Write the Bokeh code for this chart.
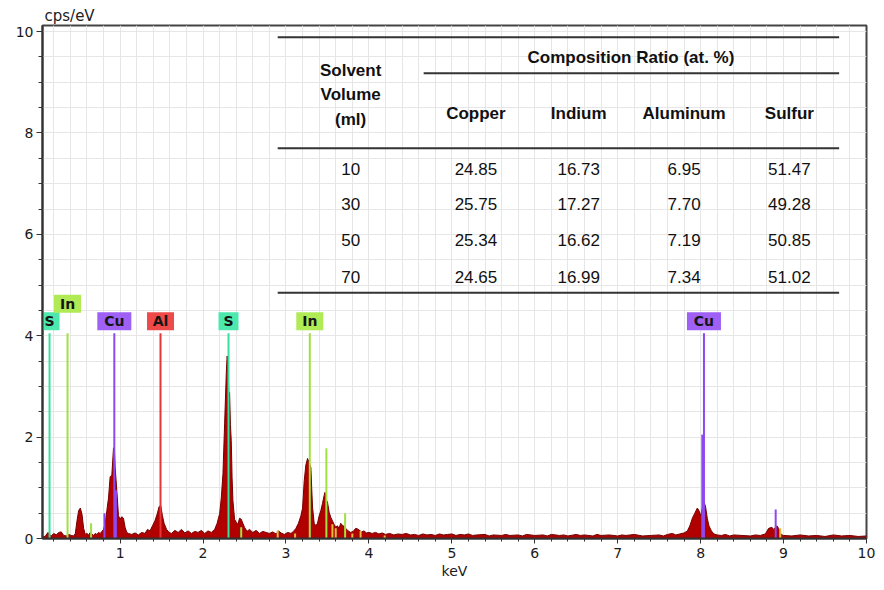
from bokeh.plotting import figure
from bokeh.models import Range1d, FixedTicker, ColumnDataSource
from bokeh.embed import file_html
from bokeh.resources import INLINE
from bokeh.core.properties import value

# ---------------- data ----------------
energy_keV = [0.06, 0.10, 0.13, 0.15, 0.17, 0.20, 0.23, 0.26, 0.29, 0.32, 0.35, 0.38, 0.41, 0.44,
              0.46, 0.48, 0.50, 0.52, 0.54, 0.56, 0.58, 0.60, 0.62, 0.64, 0.66, 0.68, 0.70, 0.72,
              0.74, 0.76, 0.78, 0.80, 0.82, 0.84, 0.86, 0.88, 0.90, 0.92, 0.93, 0.94, 0.96, 0.98,
              1.00, 1.02, 1.04, 1.06, 1.08, 1.10, 1.14, 1.18, 1.22, 1.26, 1.30, 1.33, 1.36, 1.39,
              1.42, 1.45, 1.47, 1.49, 1.51, 1.53, 1.56, 1.59, 1.62, 1.66, 1.70, 1.74, 1.78, 1.82,
              1.86, 1.90, 1.94, 1.98, 2.02, 2.06, 2.10, 2.14, 2.17, 2.20, 2.22, 2.24, 2.26, 2.28,
              2.29, 2.30, 2.31, 2.32, 2.33, 2.34, 2.35, 2.36, 2.38, 2.40, 2.42, 2.44, 2.46, 2.48,
              2.50, 2.53, 2.56, 2.60, 2.64, 2.68, 2.72, 2.76, 2.80, 2.84, 2.88, 2.91, 2.94, 2.98,
              3.02, 3.06, 3.09, 3.12, 3.15, 3.18, 3.20, 3.22, 3.24, 3.26, 3.28, 3.30, 3.31, 3.32,
              3.34, 3.36, 3.38, 3.40, 3.42, 3.44, 3.46, 3.47, 3.49, 3.50, 3.52, 3.54, 3.56, 3.58,
              3.60, 3.62, 3.64, 3.66, 3.68, 3.70, 3.72, 3.75, 3.78, 3.81, 3.84, 3.86, 3.88, 3.91,
              3.94, 3.97, 4.00, 4.04, 4.08, 4.12, 4.16, 4.20, 4.25, 4.30, 4.35, 4.40, 4.45, 4.50,
              4.55, 4.60, 4.65, 4.70, 4.75, 4.80, 4.85, 4.90, 4.95, 5.00, 5.05, 5.10, 5.15, 5.20,
              5.25, 5.30, 5.40, 5.45, 5.50, 5.60, 5.65, 5.70, 5.80, 5.85, 5.90, 6.00, 6.10, 6.15,
              6.20, 6.30, 6.35, 6.40, 6.50, 6.55, 6.60, 6.70, 6.75, 6.80, 6.90, 7.00, 7.05, 7.10,
              7.20, 7.30, 7.40, 7.50, 7.55, 7.60, 7.66, 7.70, 7.75, 7.80, 7.84, 7.87, 7.90, 7.93,
              7.96, 7.98, 8.00, 8.02, 8.04, 8.06, 8.08, 8.10, 8.13, 8.16, 8.20, 8.25, 8.30, 8.35,
              8.40, 8.50, 8.60, 8.66, 8.72, 8.78, 8.82, 8.86, 8.88, 8.92, 8.94, 8.97, 9.00, 9.10,
              9.20, 9.30, 9.40, 9.50, 9.60, 9.70, 9.80, 9.90, 10.00]
counts_cps = [0.02, 0.05, 0.12, 0.08, 0.05, 0.10, 0.07, 0.12, 0.13, 0.06, 0.05, 0.08, 0.06, 0.05,
              0.10, 0.35, 0.55, 0.60, 0.48, 0.20, 0.08, 0.10, 0.07, 0.12, 0.09, 0.06, 0.10, 0.08,
              0.12, 0.10, 0.14, 0.18, 0.30, 0.55, 0.80, 1.22, 1.25, 1.78, 1.80, 1.40, 0.95, 0.45,
              0.38, 0.43, 0.40, 0.22, 0.12, 0.10, 0.08, 0.11, 0.07, 0.12, 0.10, 0.18, 0.15, 0.25,
              0.35, 0.50, 0.63, 0.65, 0.45, 0.30, 0.18, 0.12, 0.10, 0.16, 0.12, 0.18, 0.11, 0.15,
              0.10, 0.14, 0.12, 0.16, 0.10, 0.15, 0.12, 0.18, 0.30, 0.49, 0.80, 1.28, 2.26, 3.25,
              3.60, 3.50, 2.90, 2.88, 2.25, 1.93, 1.20, 0.75, 0.38, 0.32, 0.28, 0.40, 0.38, 0.30,
              0.22, 0.14, 0.18, 0.12, 0.16, 0.10, 0.14, 0.12, 0.10, 0.13, 0.09, 0.15, 0.11, 0.08,
              0.12, 0.10, 0.14, 0.20, 0.30, 0.45, 0.60, 1.14, 1.45, 1.58, 1.50, 1.40, 1.00, 0.62,
              0.30, 0.25, 0.30, 0.45, 0.55, 0.69, 0.85, 0.91, 0.75, 0.72, 0.52, 0.42, 0.35, 0.28,
              0.22, 0.25, 0.20, 0.30, 0.26, 0.24, 0.20, 0.15, 0.12, 0.14, 0.20, 0.19, 0.17, 0.13,
              0.15, 0.11, 0.12, 0.10, 0.12, 0.09, 0.11, 0.08, 0.10, 0.07, 0.09, 0.08, 0.10, 0.07,
              0.08, 0.06, 0.09, 0.07, 0.08, 0.06, 0.09, 0.07, 0.08, 0.09, 0.06, 0.08, 0.07, 0.09,
              0.06, 0.07, 0.08, 0.05, 0.07, 0.06, 0.08, 0.06, 0.07, 0.05, 0.08, 0.06, 0.07, 0.05,
              0.08, 0.06, 0.07, 0.05, 0.08, 0.06, 0.07, 0.05, 0.08, 0.06, 0.07, 0.05, 0.07, 0.06,
              0.08, 0.05, 0.06, 0.07, 0.05, 0.08, 0.10, 0.07, 0.09, 0.11, 0.15, 0.25, 0.40, 0.50,
              0.60, 0.55, 0.45, 0.60, 0.73, 0.62, 0.40, 0.25, 0.15, 0.09, 0.07, 0.06, 0.08, 0.05,
              0.07, 0.06, 0.05, 0.07, 0.06, 0.09, 0.20, 0.22, 0.18, 0.25, 0.20, 0.08, 0.06, 0.05,
              0.07, 0.05, 0.06, 0.04, 0.07, 0.05, 0.06, 0.04, 0.05]

# labelled element lines
label_elements = ["S", "In", "Cu", "Al", "S", "In", "Cu"]
label_energy = [0.149, 0.366, 0.930, 1.487, 2.307, 3.287, 8.040]
label_height = [4.05, 4.05, 4.05, 4.05, 4.05, 4.05, 4.05]

# unlabelled element lines
minor_elements = ["Cu", "In", "Cu", "In", "In", "In", "Cu", "Cu"]
minor_energy = [0.811, 0.650, 0.949, 2.460, 3.487, 3.713, 8.020, 8.905]
minor_height = [0.50, 0.30, 0.95, 0.22, 1.78, 0.50, 2.05, 0.57]

# other faint markers
other_energy = [2.90, 3.11, 3.56, 3.60, 3.80, 3.90, 4.19, 8.96]
other_height = [0.16, 0.10, 0.28, 0.20, 0.10, 0.15, 0.06, 0.20]

# table
table_title = "Composition Ratio (at. %)"
table_first_header = ["Solvent", "Volume", "(ml)"]
table_columns = ["Copper", "Indium", "Aluminum", "Sulfur"]
solvent_volume = ["10", "30", "50", "70"]
copper = ["24.85", "25.75", "25.34", "24.65"]
indium = ["16.73", "17.27", "16.62", "16.99"]
aluminum = ["6.95", "7.70", "7.19", "7.34"]
sulfur = ["51.47", "49.28", "50.85", "51.02"]

x_ticks = [1, 2, 3, 4, 5, 6, 7, 8, 9, 10]
y_ticks = [0, 2, 4, 6, 8, 10]

# ---------------- styles ----------------
el_color = {"S": "#36E09E", "In": "#A2E040", "Cu": "#8E48F0", "Al": "#E63636"}
box_color = {"S": "#4DE8AE", "In": "#B0EA55", "Cu": "#9E60F5", "Al": "#EE4A4A"}
box_width = {"S": 20, "In": 27, "Al": 27, "Cu": 34}
TICK_FONT = "DejaVu Sans"
TABLE_FONT = "Liberation Sans"

p = figure(width=884, height=590, x_range=Range1d(0.064, 10.0), y_range=Range1d(0, 10.12),
           output_backend="svg", toolbar_location=None,
           min_border_left=42, min_border_right=18, min_border_top=25, min_border_bottom=52)
p.background_fill_color = "white"
p.border_fill_color = "white"
p.outline_line_color = "#444444"
p.outline_line_width = 2

p.title.text = "cps/eV"
p.title.text_font = TICK_FONT
p.title.text_font_size = "15px"
p.title.text_font_style = "normal"
p.title.text_color = "#222222"
p.title.align = "left"
p.title.offset = 2
p.title.standoff = 1

# axes
p.xaxis.ticker = FixedTicker(ticks=x_ticks, minor_ticks=[i / 5 for i in range(1, 50)])
p.yaxis.ticker = FixedTicker(ticks=y_ticks, minor_ticks=[i / 2 for i in range(0, 21)])
for ax in (p.xaxis[0], p.yaxis[0]):
    ax.major_label_text_font = TICK_FONT
    ax.major_label_text_font_size = "14px"
    ax.major_label_text_color = "#1a1a1a"
    ax.axis_line_color = "#333333"
    ax.axis_line_width = 2
    ax.major_tick_line_color = "#333333"
    ax.minor_tick_line_color = "#333333"
    ax.major_tick_in = 0
    ax.minor_tick_in = 0
p.xaxis.major_tick_out = 5
p.xaxis.minor_tick_out = 3
p.yaxis.major_tick_out = 6
p.yaxis.minor_tick_out = 4
p.xaxis.major_label_standoff = 4
p.yaxis.major_label_standoff = 3
p.xaxis.axis_label = "keV"
p.xaxis.axis_label_text_font = TICK_FONT
p.xaxis.axis_label_text_font_size = "14px"
p.xaxis.axis_label_text_font_style = "normal"
p.xaxis.axis_label_text_color = "#1a1a1a"
p.xaxis.axis_label_standoff = 2

p.xgrid.ticker = FixedTicker(ticks=[i / 5 for i in range(1, 50)])
p.ygrid.ticker = FixedTicker(ticks=[i / 2 for i in range(0, 21)])
p.xgrid.grid_line_color = "#e6e6e6"
p.ygrid.grid_line_color = "#e6e6e6"

# spectrum
p.varea(x=energy_keV, y1=[0] * len(energy_keV), y2=counts_cps, fill_color="#B00000")
p.line(energy_keV, counts_cps, line_color="#740000", line_width=1)

# other faint markers
p.segment(x0=other_energy, y0=[0] * len(other_energy), x1=other_energy, y1=other_height,
          line_color="#E0BC40", line_width=2)

# minor element lines
p.segment(x0=minor_energy, y0=[0] * len(minor_energy), x1=minor_energy, y1=minor_height,
          line_color=[el_color[e] for e in minor_elements], line_width=2)

# labelled element lines
p.segment(x0=label_energy, y0=[0] * len(label_energy), x1=label_energy, y1=label_height,
          line_color=[el_color[e] for e in label_elements], line_width=2)

# label boxes: bump a label up a row if it sits too close to the previous one
rows = []
for i, e in enumerate(label_energy):
    if i > 0 and e - label_energy[i - 1] < 0.3 and rows[-1] == 0:
        rows.append(1)
    else:
        rows.append(0)
row_y = {0: 4.285, 1: 4.63}
lab_src = ColumnDataSource(dict(
    x=label_energy, y=[row_y[r] for r in rows], text=label_elements,
    w=[box_width[e] for e in label_elements],
    fill=[box_color[e] for e in label_elements]))
p.rect(x="x", y="y", width="w", height=18, width_units="screen", height_units="screen",
       fill_color="fill", line_color=None, source=lab_src)
p.text(x="x", y="y", text="text", source=lab_src, text_font=value(TICK_FONT),
       text_font_size="14px", text_font_style="bold", text_align="center",
       text_baseline="middle", text_color="#151515")

# ---------------- table ----------------
T_LEFT, T_RIGHT, T_SUB = 2.90, 9.67, 4.66
T_TOP, T_SUBLINE, T_HEADLINE, T_BOTTOM = 9.89, 9.18, 7.70, 4.85
tline = "#333333"
p.segment(x0=[T_LEFT, T_SUB, T_LEFT, T_LEFT], y0=[T_TOP, T_SUBLINE, T_HEADLINE, T_BOTTOM],
          x1=[T_RIGHT, T_RIGHT, T_RIGHT, T_RIGHT], y1=[T_TOP, T_SUBLINE, T_HEADLINE, T_BOTTOM],
          line_color=tline, line_width=2)

col_x = [3.78, 5.29, 6.53, 7.80, 9.07]
row_ys = [7.29, 6.60, 5.89, 5.16]

p.text(x=[7.16], y=[9.48], text=[table_title], text_font=value(TABLE_FONT),
       text_font_size="17px", text_font_style="bold", text_align="center",
       text_baseline="middle", text_color="#111111")
p.text(x=[col_x[0]] * 3, y=[9.24, 8.76, 8.26], text=table_first_header,
       text_font=value(TABLE_FONT), text_font_size="17px", text_font_style="bold",
       text_align="center", text_baseline="middle", text_color="#111111")
p.text(x=col_x[1:], y=[8.39] * 4, text=table_columns, text_font=value(TABLE_FONT),
       text_font_size="17px", text_font_style="bold", text_align="center",
       text_baseline="middle", text_color="#111111")

for cx, col in zip(col_x, [solvent_volume, copper, indium, aluminum, sulfur]):
    p.text(x=[cx] * len(col), y=row_ys, text=col, text_font=value(TABLE_FONT),
           text_font_size="17px", text_align="center", text_baseline="middle",
           text_color="#111111")

open("out.html", "w").write(file_html(p, INLINE))
